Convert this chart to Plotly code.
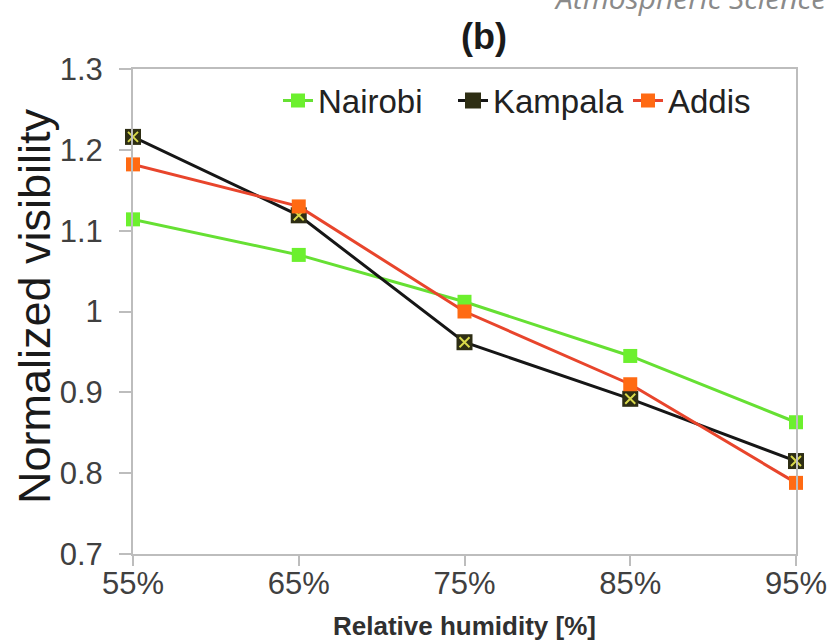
import plotly.graph_objects as go

humidity = ["55%", "65%", "75%", "85%", "95%"]
nairobi = [1.114, 1.070, 1.012, 0.945, 0.863]
kampala = [1.216, 1.119, 0.962, 0.892, 0.815]
addis = [1.182, 1.130, 1.000, 0.910, 0.788]
y_ticks = [0.7, 0.8, 0.9, 1.0, 1.1, 1.2, 1.3]
y_ticktext = ["0.7", "0.8", "0.9", "1", "1.1", "1.2", "1.3"]

fig = go.Figure()
fig.add_trace(go.Scatter(
    x=humidity, y=nairobi, name="Nairobi", mode="lines+markers", cliponaxis=False,
    line=dict(color="#66E033", width=3),
    marker=dict(symbol="square", size=14, color="#6CF02E"),
))
fig.add_trace(go.Scatter(
    x=humidity, y=kampala, name="Kampala", mode="lines+markers", legendgroup="k",
    cliponaxis=False,
    line=dict(color="#161616", width=3),
    marker=dict(symbol="square", size=16, color="#2E2E14"),
))
fig.add_trace(go.Scatter(
    x=humidity, y=kampala, name="Kampala", mode="markers", legendgroup="k",
    showlegend=False, hoverinfo="skip", cliponaxis=False,
    marker=dict(symbol="x-thin", size=10, line=dict(color="#D8D84A", width=2)),
))
fig.add_trace(go.Scatter(
    x=humidity, y=addis, name="Addis", mode="lines+markers", cliponaxis=False,
    line=dict(color="#E8452C", width=3),
    marker=dict(symbol="square", size=14, color="#FF6A13"),
))

axis_font = dict(family="Liberation Sans, Arial", size=31, color="#404040")

fig.update_layout(
    width=833, height=642,
    margin=dict(l=133, r=37, t=69, b=88, autoexpand=False),
    paper_bgcolor="white", plot_bgcolor="white",
    showlegend=True,
    legend=dict(
        orientation="h", x=(278 - 133) / 663, xanchor="left", y=0.935, yanchor="middle",
        font=dict(family="Liberation Sans, Arial", size=33, color="#222222"),
        bgcolor="rgba(0,0,0,0)", itemwidth=30, tracegroupgap=0,
        entrywidth=130, entrywidthmode="pixels",
    ),
    xaxis=dict(
        type="category", range=[0, 4], automargin=False,
        showline=True, linecolor="#BDBDBD", linewidth=2, mirror=True,
        ticks="outside", ticklen=10, tickcolor="#BDBDBD", tickwidth=2,
        showgrid=False, zeroline=False,
        tickfont=axis_font, ticklabelstandoff=-9,
        title=dict(text="<b>Relative humidity [%]</b>", standoff=17,
                   font=dict(family="Liberation Sans, Arial", size=26, color="#303030")),
    ),
    yaxis=dict(
        range=[0.7, 1.3], tickvals=y_ticks, ticktext=y_ticktext, automargin=False,
        showline=True, linecolor="#BDBDBD", linewidth=2, mirror=True,
        ticks="outside", ticklen=12, tickcolor="#BDBDBD", tickwidth=2,
        showgrid=False, zeroline=False,
        tickfont=axis_font, ticklabelstandoff=10,
    ),
    annotations=[
        dict(text="Normalized visibility", xref="paper", yref="paper",
             x=(34 - 133) / 663, y=(554 - 306) / 485, xanchor="center", yanchor="middle",
             textangle=-90, showarrow=False,
             font=dict(family="Liberation Sans, Arial", size=45, color="#1A1A1A")),
        dict(text="<b>(b)</b>", xref="paper", yref="paper", x=0.53, y=1.066,
             xanchor="center", yanchor="middle", showarrow=False,
             font=dict(family="Liberation Sans, Arial", size=36, color="#1A1A1A")),
        dict(text="<i>Atmospheric Science</i>", xref="paper", yref="paper",
             x=(552 - 133) / 663, y=1.148, xanchor="left", yanchor="middle",
             showarrow=False,
             font=dict(family="Open Sans", size=30, color="#8A8A8A")),
    ],
)

fig.write_html(
    "out.html",
    config={"displayModeBar": False},
    post_script="document.body.style.margin='0';document.body.style.overflow='hidden';",
)
